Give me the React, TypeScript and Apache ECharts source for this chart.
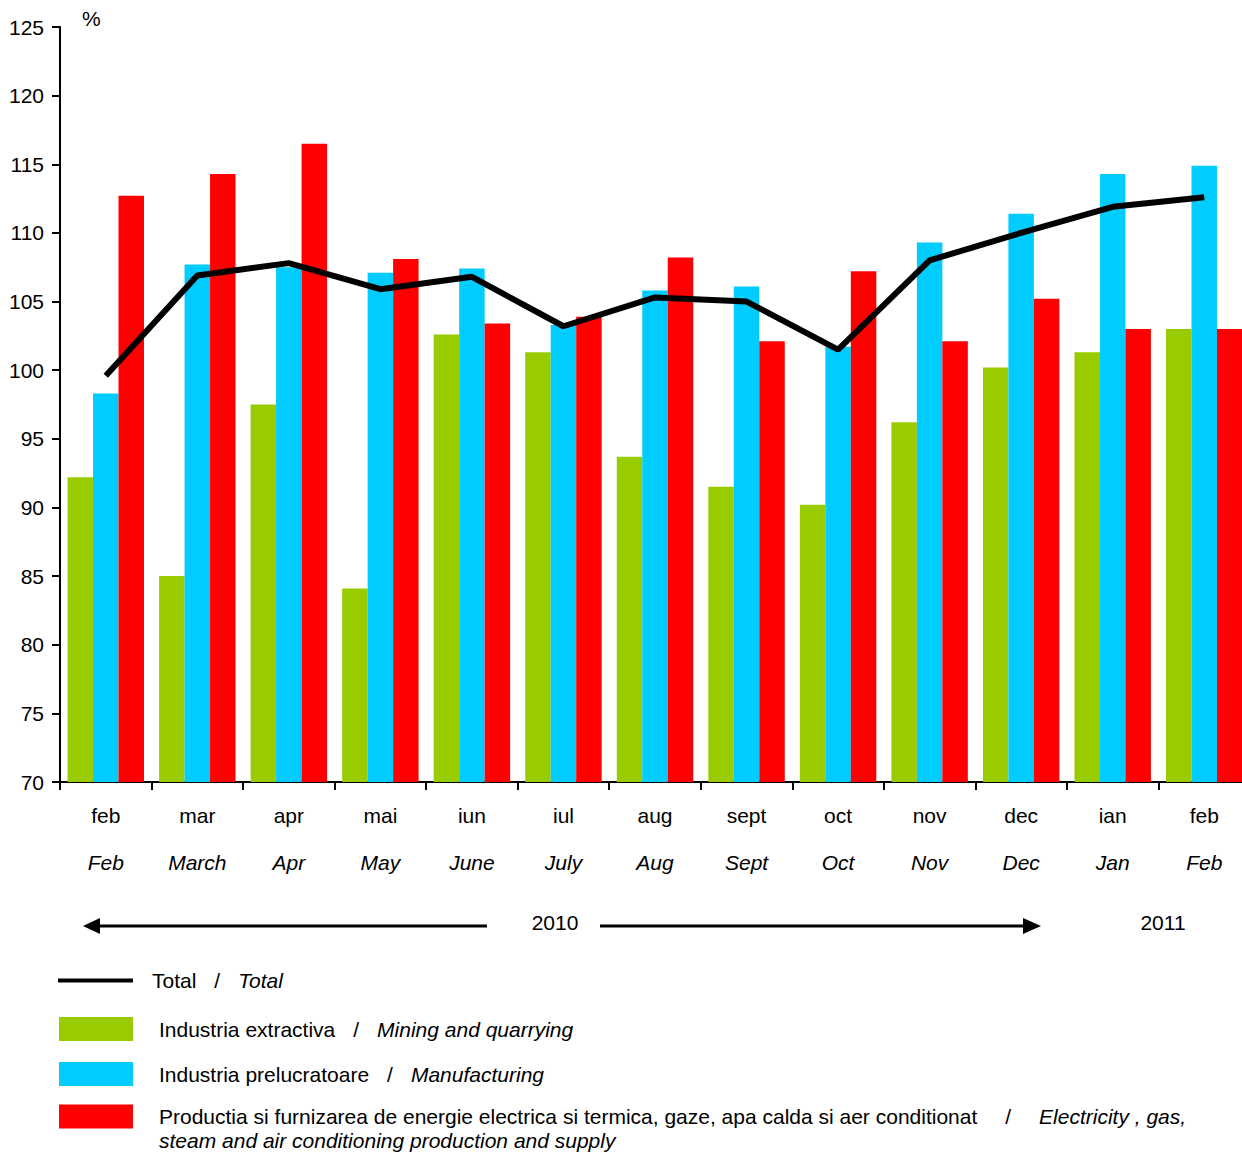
import React, { useEffect, useRef } from "react";
import * as echarts from "echarts";

const months = ["feb", "mar", "apr", "mai", "iun", "iul", "aug", "sept", "oct", "nov", "dec", "ian", "feb"];
const monthsEn = ["Feb", "March", "Apr", "May", "June", "July", "Aug", "Sept", "Oct", "Nov", "Dec", "Jan", "Feb"];

const mining = [92.2, 85.0, 97.5, 84.1, 102.6, 101.3, 93.7, 91.5, 90.2, 96.2, 100.2, 101.3, 103.0];
const manufacturing = [98.3, 107.7, 107.5, 107.1, 107.4, 103.3, 105.8, 106.1, 101.7, 109.3, 111.4, 114.3, 114.9];
const energy = [112.7, 114.3, 116.5, 108.1, 103.4, 103.9, 108.2, 102.1, 107.2, 102.1, 105.2, 103.0, 103.0];
const total = [99.6, 106.9, 107.8, 105.9, 106.8, 103.2, 105.3, 105.0, 101.5, 108.0, 110.0, 111.9, 112.6];

const yMin = 70;
const yMax = 125;
const yStep = 5;

const FONT = '"Liberation Sans", Arial, sans-serif';
const FS = 21;

const nameTotal = "Total";
const nameMining = "Industria extractiva";
const nameManuf = "Industria prelucratoare";
const nameEnergy = "Productia si furnizarea de energie electrica si termica, gaze, apa calda si aer conditionat";

export default function App() {
  const ref = useRef<HTMLDivElement>(null);
  useEffect(() => {
    if (!ref.current) return;
    const chart = echarts.init(ref.current, null, { renderer: "svg" });
    const baseRich = {
      sp: { width: 14, fontSize: FS, fontFamily: FONT },
      sp2: { width: 21, fontSize: FS, fontFamily: FONT },
      n: { fontSize: FS, fontFamily: FONT, color: "#000", lineHeight: 24 },
      i: { fontSize: FS, fontFamily: FONT, color: "#000", fontStyle: "italic", lineHeight: 24 },
      s: { fontSize: FS, fontFamily: FONT, color: "#000", padding: [0, 18, 0, 18], lineHeight: 24 },
      s2: { fontSize: FS, fontFamily: FONT, color: "#000", padding: [0, 28, 0, 28], lineHeight: 24 },
      p: { fontSize: FS, fontFamily: FONT, lineHeight: 24 },
    };
    const legendBase = {
      orient: "vertical",
      padding: 0,
      itemGap: 0,
      textStyle: { rich: baseRich, fontSize: FS, fontFamily: FONT, color: "#000" },
      selectedMode: false,
    };
    chart.setOption({
      animation: false,
      textStyle: { fontFamily: FONT },
      grid: { left: 60, width: 1190, top: 27, height: 755, containLabel: false, outerBoundsMode: "none" },
      legend: [
        {
          ...legendBase,
          left: 58,
          top: 970,
          data: [{ name: nameTotal, icon: "rect" }],
          itemWidth: 75,
          itemHeight: 4,
          itemStyle: { color: "#000" },
          formatter: () => "{sp|}{n|Total}{s|/}{i|Total}",
        },
        {
          ...legendBase,
          left: 59,
          top: 1017,
          data: [nameMining],
          itemWidth: 74,
          itemHeight: 24,
          icon: "rect",
          formatter: () => "{sp2|}{n|Industria extractiva}{s|/}{i|Mining and quarrying}",
        },
        {
          ...legendBase,
          left: 59,
          top: 1062,
          data: [nameManuf],
          itemWidth: 74,
          itemHeight: 24,
          icon: "rect",
          formatter: () => "{sp2|}{n|Industria prelucratoare}{s|/}{i|Manufacturing}",
        },
        {
          ...legendBase,
          left: 59,
          top: 1082,
          data: [nameEnergy],
          itemWidth: 74,
          itemHeight: 24,
          icon: "rect",
          formatter: () =>
            "{p| }\n{sp2|}{n|Productia si furnizarea de energie electrica si termica, gaze, apa calda si aer conditionat}{s2|/}{i|Electricity , gas,}\n{sp2|}{i|steam and air conditioning production and supply}",
        },
      ],
      xAxis: {
        type: "category",
        data: months,
        boundaryGap: true,
        axisLine: { lineStyle: { color: "#000", width: 2 } },
        axisTick: { show: true, length: 8, interval: 0, lineStyle: { color: "#000", width: 2 } },
        axisLabel: {
          interval: 0,
          margin: 10,
          formatter: (v: string, i: number) => `{a|${v}}\n{b|${monthsEn[i]}}`,
          rich: {
            a: { fontSize: FS, fontFamily: FONT, color: "#000", lineHeight: 47 },
            b: { fontSize: FS, fontFamily: FONT, color: "#000", fontStyle: "italic", lineHeight: 47 },
          },
        },
      },
      yAxis: {
        type: "value",
        min: yMin,
        max: yMax,
        interval: yStep,
        splitLine: { show: false },
        axisLine: { show: true, lineStyle: { color: "#000", width: 2 } },
        axisTick: { show: true, length: 8, lineStyle: { color: "#000", width: 2 } },
        axisLabel: { fontSize: FS, fontFamily: FONT, color: "#000", margin: 16 },
      },
      series: [
        {
          name: nameMining,
          type: "bar",
          data: mining,
          itemStyle: { color: "#99CC00" },
          barGap: "0%",
          barCategoryGap: "16.5%",
        },
        {
          name: nameManuf,
          type: "bar",
          data: manufacturing,
          itemStyle: { color: "#00CCFF" },
        },
        {
          name: nameEnergy,
          type: "bar",
          data: energy,
          itemStyle: { color: "#FF0000" },
        },
        {
          name: nameTotal,
          type: "line",
          data: total,
          symbol: "none",
          z: 10,
          lineStyle: { color: "#000", width: 6 },
          itemStyle: { color: "#000" },
        },
      ],
      graphic: [
        { type: "text", left: 82, top: 8, style: { text: "%", fontSize: FS, fontFamily: FONT, fill: "#000" } },
        { type: "line", shape: { x1: 98, y1: 926, x2: 487, y2: 926 }, style: { stroke: "#000", lineWidth: 3 } },
        { type: "polygon", shape: { points: [[83, 926], [100, 918], [100, 934]] }, style: { fill: "#000" } },
        { type: "line", shape: { x1: 600, y1: 926, x2: 1025, y2: 926 }, style: { stroke: "#000", lineWidth: 3 } },
        { type: "polygon", shape: { points: [[1041, 926], [1023, 918], [1023, 934]] }, style: { fill: "#000" } },
        {
          type: "text",
          x: 555,
          y: 922,
          style: { text: "2010", fontSize: FS, fontFamily: FONT, fill: "#000", align: "center", verticalAlign: "middle" },
        },
        {
          type: "text",
          x: 1163,
          y: 922,
          style: { text: "2011", fontSize: FS, fontFamily: FONT, fill: "#000", align: "center", verticalAlign: "middle" },
        },
      ],
    });
    return () => chart.dispose();
  }, []);
  return (
    <div
      ref={ref}
      style={{ position: "absolute", left: 0, top: 0, width: 1242, height: 1153, background: "#fff" }}
    />
  );
}
